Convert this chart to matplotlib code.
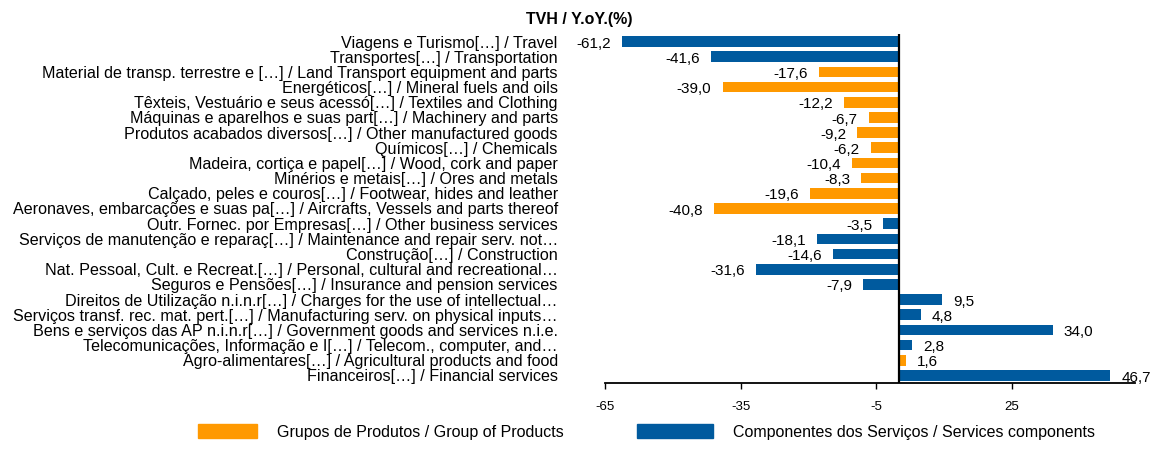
import matplotlib
matplotlib.use("Agg")
import matplotlib.pyplot as plt

plt.rcParams['font.family'] = ['Liberation Sans', 'DejaVu Sans']
plt.rcParams['axes.unicode_minus'] = False

categorias = [
    "Viagens e Turismo[…] / Travel",
    "Transportes[…] / Transportation",
    "Material de transp. terrestre e […] / Land Transport equipment and parts",
    "Energéticos[…] / Mineral fuels and oils",
    "Têxteis, Vestuário e seus acessó[…] / Textiles and Clothing",
    "Máquinas e aparelhos e suas part[…] / Machinery and parts",
    "Produtos acabados diversos[…] / Other manufactured goods",
    "Químicos[…] / Chemicals",
    "Madeira, cortiça e papel[…] / Wood, cork and paper",
    "Minérios e metais[…] / Ores and metals",
    "Calçado, peles e couros[…] / Footwear, hides and leather",
    "Aeronaves, embarcações e suas pa[…] / Aircrafts, Vessels and parts thereof",
    "Outr. Fornec. por Empresas[…] / Other business services",
    "Serviços de manutenção e reparaç[…] / Maintenance and repair serv. not…",
    "Construção[…] / Construction",
    "Nat. Pessoal, Cult. e Recreat.[…] / Personal, cultural and recreational…",
    "Seguros e Pensões[…] / Insurance and pension services",
    "Direitos de Utilização n.i.n.r[…] / Charges for the use of intellectual…",
    "Serviços transf. rec. mat. pert.[…] / Manufacturing serv. on physical inputs…",
    "Bens e serviços das AP n.i.n.r[…] / Government goods and services n.i.e.",
    "Telecomunicações, Informação e I[…] / Telecom., computer, and…",
    "Agro-alimentares[…] / Agricultural products and food",
    "Financeiros[…] / Financial services",
]
valores = [-61.2, -41.6, -17.6, -39.0, -12.2, -6.7, -9.2, -6.2, -10.4, -8.3,
           -19.6, -40.8, -3.5, -18.1, -14.6, -31.6, -7.9, 9.5, 4.8, 34.0,
           2.8, 1.6, 46.7]
# P = grupos de produtos, S = componentes dos serviços
tipo = ["S", "S", "P", "P", "P", "P", "P", "P", "P", "P",
        "P", "P", "S", "S", "S", "S", "S", "S", "S", "S",
        "S", "P", "S"]

nome_p = "Grupos de Produtos / Group of Products"
nome_s = "Componentes dos Serviços / Services components"
cor_p = "#FF9900"
cor_s = "#005A9E"

fig = plt.figure(figsize=(11.5, 4.68), dpi=100)
ax = fig.add_axes([0.5261, 0.1816, 0.4609, 0.7458])

n = len(categorias)
pos = [n - 1 - i for i in range(n)]
cores = [cor_p if t == "P" else cor_s for t in tipo]
ax.barh(pos, valores, height=0.7, color=cores)

for p, v in zip(pos, valores):
    txt = f"{v:.1f}".replace(".", ",")
    if v < 0:
        ax.annotate(txt, (v, p), xytext=(-8, -1.5), textcoords="offset points",
                    ha="right", va="center", fontsize=11)
    else:
        ax.annotate(txt, (v, p), xytext=(8, -1.5), textcoords="offset points",
                    ha="left", va="center", fontsize=11)

ax.axvline(0, color="black", lw=1.6)
ax.set_xlim(-65, 52.2)
ax.set_ylim(-0.5, n - 0.5)
ax.set_xticks([-65, -35, -5, 25])
ax.tick_params(axis="x", direction="out", length=4, width=1, labelsize=9.5, pad=9)
ax.set_yticks(pos)
ax.set_yticklabels(categorias, fontsize=11.6)
ax.tick_params(axis="y", length=0, pad=34)
for s in ["top", "right", "left"]:
    ax.spines[s].set_visible(False)
ax.spines["bottom"].set_linewidth(1.3)

fig.text(0.504, 0.958, "TVH / Y.oY.(%)", ha="center", va="center",
         fontsize=11.5, fontweight="bold")

h_p = plt.Rectangle((0, 0), 1, 1, color=cor_p)
h_s = plt.Rectangle((0, 0), 1, 1, color=cor_s)
fig.legend([h_p], [nome_p], loc="center left", bbox_to_anchor=(0.1722, 0.077),
           frameon=False, fontsize=11.5, handlelength=3.7, handleheight=1.0,
           handletextpad=1.25, borderpad=0, borderaxespad=0)
fig.legend([h_s], [nome_s], loc="center left", bbox_to_anchor=(0.5539, 0.077),
           frameon=False, fontsize=11.5, handlelength=4.75, handleheight=1.0,
           handletextpad=1.25, borderpad=0, borderaxespad=0)

fig.savefig("out.png", dpi=100)
